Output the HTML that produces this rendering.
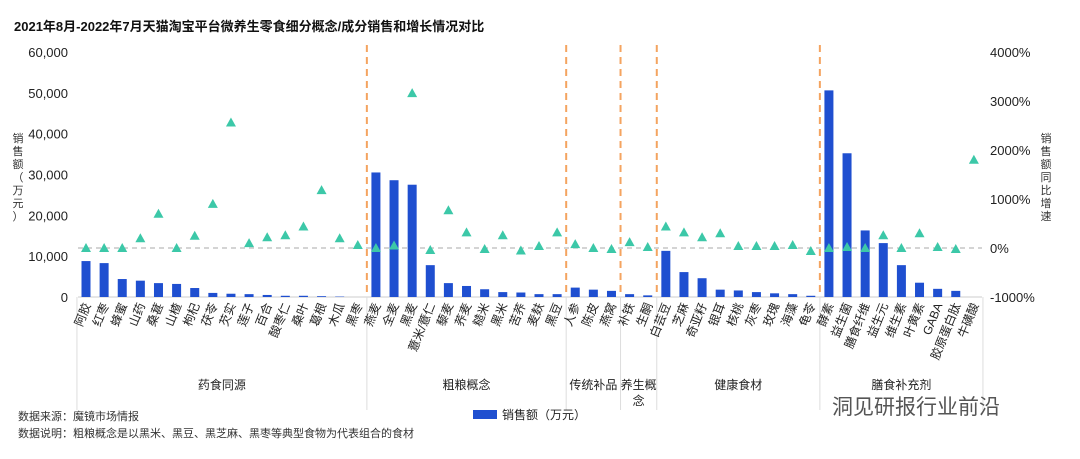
<!DOCTYPE html>
<html><head><meta charset="utf-8">
<style>
body{margin:0;background:#fff;}
svg text{font-family:"Liberation Sans","Noto Sans CJK SC",sans-serif;}
</style></head>
<body>
<svg id="c" width="1080" height="454" xmlns="http://www.w3.org/2000/svg">
<text x="14" y="31" font-size="13" font-weight="bold" fill="#111">2021年8月-2022年7月天猫淘宝平台微养生零食细分概念/成分销售和增长情况对比</text>
<g id="grid"></g>
<g id="bars"></g>
<g id="tris"></g>
<g id="xl"></g>
<text font-size="11" fill="#333" text-anchor="middle"><tspan x="18" y="142">销</tspan><tspan x="18" y="155">售</tspan><tspan x="18" y="168">额</tspan><tspan x="18" y="181">（</tspan><tspan x="18" y="194">万</tspan><tspan x="18" y="207">元</tspan><tspan x="18" y="220">）</tspan></text>
<text font-size="11" fill="#333" text-anchor="middle"><tspan x="1046" y="142">销</tspan><tspan x="1046" y="155">售</tspan><tspan x="1046" y="168">额</tspan><tspan x="1046" y="181">同</tspan><tspan x="1046" y="194">比</tspan><tspan x="1046" y="207">增</tspan><tspan x="1046" y="220">速</tspan></text>
<text x="18" y="420" font-size="11" fill="#333">数据来源：魔镜市场情报</text>
<text x="18" y="437" font-size="11" fill="#333">数据说明：粗粮概念是以黑米、黑豆、黑芝麻、黑枣等典型食物为代表组合的食材</text>
<rect x="473" y="410" width="24" height="9" fill="#1f4fd0"/>
<text x="502" y="419" font-size="12" fill="#222">销售额（万元）</text>
<text x="832" y="414" font-size="21" fill="#555">洞见研报行业前沿</text>
</svg>
<script>
const cats=["阿胶","红枣","蜂蜜","山药","桑葚","山楂","枸杞","茯苓","芡实","莲子","百合","酸枣仁","桑叶","葛根","木瓜","黑枣","燕麦","全麦","黑麦","薏米/薏仁","藜麦","荞麦","糙米","黑米","苦荞","麦麸","黑豆","人参","陈皮","燕窝","补铁","生酮","白芸豆","芝麻","奇亚籽","银耳","核桃","灰枣","玫瑰","海藻","龟苓","酵素","益生菌","膳食纤维","益生元","维生素","叶黄素","GABA","胶原蛋白肽","牛磺酸"];
const sales=[8800,8300,4400,4000,3400,3200,2200,1000,800,700,500,300,300,200,100,0,30500,28600,27500,7800,3400,2700,1900,1200,1100,700,700,2300,1800,1500,700,400,11300,6100,4600,1800,1600,1200,900,700,300,50600,35200,16300,13200,7800,3500,2000,1500,0];
const growth=[0,0,0,200,700,0,250,900,2560,100,220,260,440,1180,200,60,0,50,3160,-40,770,320,-20,260,-50,40,320,80,0,-20,120,20,440,320,220,300,40,40,40,60,-60,0,20,0,260,0,300,20,-20,1800];
const groups=["药食同源","粗粮概念","传统补品","养生概念","健康食材","膳食补充剂"];
const groupSizes=[16,11,3,2,9,9];
const leftTicks=[0,10000,20000,30000,40000,50000,60000];
const rightTicks=[-1000,0,1000,2000,3000,4000];

const NS="http://www.w3.org/2000/svg";
const y0=297,yTop=52;
const yL=v=>y0-(v/60000)*(y0-yTop);
const yR=v=>y0-((v+1000)/5000)*(y0-yTop);
const step=18.12,x0=86;
const xC=i=>x0+i*step;
function mk(tag,attrs,parent,txt){const e=document.createElementNS(NS,tag);for(const k in attrs)e.setAttribute(k,attrs[k]);if(txt!==undefined)e.textContent=txt;parent.appendChild(e);return e;}
const grid=document.getElementById('grid'),bars=document.getElementById('bars'),tris=document.getElementById('tris'),xl=document.getElementById('xl');
leftTicks.forEach(t=>{const e=mk('text',{x:68,y:yL(t)+5,'text-anchor':'end','font-size':13,fill:'#222'},grid,t.toLocaleString('en-US'));

});
rightTicks.forEach(t=>{const e=mk('text',{x:990,y:yR(t)+5,'font-size':13,fill:'#222'},grid,t+'%');

});
const zl=mk('line',{x1:78,x2:982,y1:yR(0),y2:yR(0),stroke:'#aaa','stroke-dasharray':'5,4'},grid);


mk('line',{x1:78,x2:982,y1:y0,y2:y0,stroke:'#ccc'},grid);
let acc=0;
const bounds=[0];groupSizes.forEach(s=>{acc+=s;bounds.push(acc);});
bounds.forEach((b,k)=>{const x=x0-step/2+b*step;
mk('line',{x1:x,x2:x,y1:y0,y2:410,stroke:'#ddd'},grid);
if(k>0&&k<bounds.length-1){const d=mk('line',{x1:x,x2:x,y1:45,y2:y0,stroke:'#f4a460','stroke-width':2,'stroke-dasharray':'7,5'},grid);

}});
groups.forEach((g,k)=>{const xa=x0-step/2+bounds[k]*step,xb=x0-step/2+bounds[k+1]*step;const cx=(xa+xb)/2;
if(g==="养生概念"){const t=mk('text',{x:cx,y:389,'text-anchor':'middle','font-size':12,fill:'#222'},xl);mk('tspan',{x:cx,dy:0},t,'养生概');mk('tspan',{x:cx,dy:16},t,'念');

}
else{const t=mk('text',{x:cx,y:389,'text-anchor':'middle','font-size':12,fill:'#222'},xl,g);

}});
cats.forEach((c,i)=>{const x=xC(i);
const h=y0-yL(sales[i]);
const r=mk('rect',{x:x-4.5,y:yL(sales[i]),width:9,height:Math.max(h,0),fill:'#1f4fd0'},bars);


const ty=yR(growth[i]);
const p=mk('polygon',{points:`${x},${ty-5} ${x-5},${ty+4} ${x+5},${ty+4}`,fill:'#3cc8a8'},tris);


const t=mk('text',{transform:`translate(${x+5},${305}) rotate(-68)`,'text-anchor':'end','font-size':12,fill:'#222'},xl,c);

});
</script>
</body></html>
